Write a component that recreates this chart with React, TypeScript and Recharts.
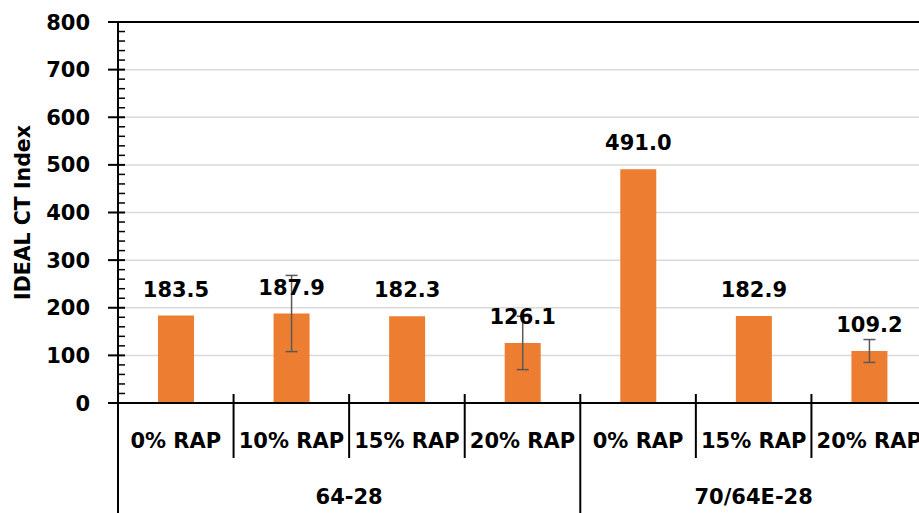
import React from 'react';
import { BarChart, Bar, XAxis, YAxis, CartesianGrid, ReferenceLine, ErrorBar, LabelList, Label } from 'recharts';

const categories = ['0% RAP', '10% RAP', '15% RAP', '20% RAP', '0% RAP', '15% RAP', '20% RAP'];
const groupOf = ['64-28', '64-28', '64-28', '64-28', '70/64E-28', '70/64E-28', '70/64E-28'];
const ctIndex = [183.5, 187.9, 182.3, 126.1, 491.0, 182.9, 109.2];
const ctError: (number | null)[] = [null, 80, null, 56, null, null, 24];
const groups = [
  { name: '64-28', start: 0, end: 3 },
  { name: '70/64E-28', start: 4, end: 6 },
];
const yTicks = Array.from({ length: 41 }, (_, i) => i * 20);
const gridValues = [100, 200, 300, 400, 500, 600, 700];

const data = categories.map((c, i) => ({
  id: groupOf[i] + '|' + c,
  value: ctIndex[i],
  err: ctError[i],
}));

const FONT = '"DejaVu Sans", sans-serif';
const CHART_W = 935;
const CHART_H = 513;
const MARGIN = { top: 22, right: 8, left: 0, bottom: 0 };
const Y_AXIS_W = 118;
const X_AXIS_H = 110;
const BAND = (CHART_W - MARGIN.right - MARGIN.left - Y_AXIS_W) / categories.length;

const YTick = (props: any) => {
  const { x, y, payload } = props;
  const v = payload.value;
  const major = v % 100 === 0;
  return (
    <g>
      {major ? (
        <>
          <line x1={x - 10} x2={x + 7} y1={y} y2={y} stroke="#000" strokeWidth={2} />
          <text x={x - 28} y={y} dy="0.36em" textAnchor="end" fontFamily={FONT} fontWeight="bold" fontSize={21} fill="#000">
            {v}
          </text>
        </>
      ) : (
        <line x1={x} x2={x + 7} y1={y} y2={y} stroke="#000" strokeWidth={1.5} />
      )}
    </g>
  );
};

const XTick = (props: any) => {
  const { x, y, payload } = props;
  const idx = payload.index;
  const isGroupStart = groups.some((g) => g.start === idx);
  const left = x - BAND / 2;
  const right = x + BAND / 2;
  const isLast = idx === categories.length - 1;
  const grp = groups.find((g) => Math.floor((g.start + g.end) / 2) === idx);
  return (
    <g>
      <line x1={left} x2={left} y1={y - 9} y2={isGroupStart ? y + 115 : y + 55} stroke="#000" strokeWidth={2} />
      {isLast && <line x1={right} x2={right} y1={y - 9} y2={y + 115} stroke="#000" strokeWidth={2} />}
      <text x={x} y={y + 45} textAnchor="middle" fontFamily={FONT} fontWeight="bold" fontSize={21} fill="#000">
        {categories[idx]}
      </text>
      {grp && (
        <text
          x={x + (((grp.start + grp.end) / 2) - idx) * BAND}
          y={y + 101}
          textAnchor="middle"
          fontFamily={FONT}
          fontWeight="bold"
          fontSize={21}
          fill="#000"
        >
          {grp.name}
        </text>
      )}
    </g>
  );
};

const YTitle = (props: any) => {
  const vb = props.viewBox || {};
  const cx = (vb.x || 0) + 30;
  const cy = (vb.y || 0) + (vb.height || 0) / 2;
  return (
    <text
      x={cx}
      y={cy}
      transform={`rotate(-90 ${cx} ${cy})`}
      textAnchor="middle"
      fontFamily={FONT}
      fontWeight="bold"
      fontSize={20.5}
      fill="#000"
    >
      IDEAL CT Index
    </text>
  );
};

export default function App() {
  return (
    <div style={{ position: 'absolute', left: 0, top: 0, width: 919, height: 513, overflow: 'hidden', background: '#fff' }}>
      <BarChart width={CHART_W} height={CHART_H} data={data} margin={MARGIN}>
        <CartesianGrid vertical={false} horizontalValues={gridValues} stroke="#D9D9D9" strokeWidth={1.5} />
        <ReferenceLine y={800} stroke="#000" strokeWidth={2} />
        <XAxis
          dataKey="id"
          height={X_AXIS_H}
          interval={0}
          tickLine={false}
          tickSize={0}
          tickMargin={0}
          axisLine={{ stroke: '#000', strokeWidth: 2 }}
          tick={<XTick />}
        />
        <YAxis
          width={Y_AXIS_W}
          domain={[0, 800]}
          ticks={yTicks}
          interval={0}
          tickLine={false}
          tickSize={0}
          tickMargin={0}
          axisLine={{ stroke: '#000', strokeWidth: 2 }}
          tick={<YTick />}
        >
          <Label content={<YTitle />} />
        </YAxis>
        <Bar dataKey="value" fill="#ED7D31" barSize={36} isAnimationActive={false}>
          <LabelList
            dataKey="value"
            position="top"
            offset={19}
            formatter={(v: any) => Number(v).toFixed(1)}
            style={{ fontFamily: FONT, fontWeight: 'bold', fontSize: 21, fill: '#000' }}
          />
          <ErrorBar dataKey="err" width={6} stroke="#595959" strokeWidth={1.5} direction="y" />
        </Bar>
      </BarChart>
    </div>
  );
}
